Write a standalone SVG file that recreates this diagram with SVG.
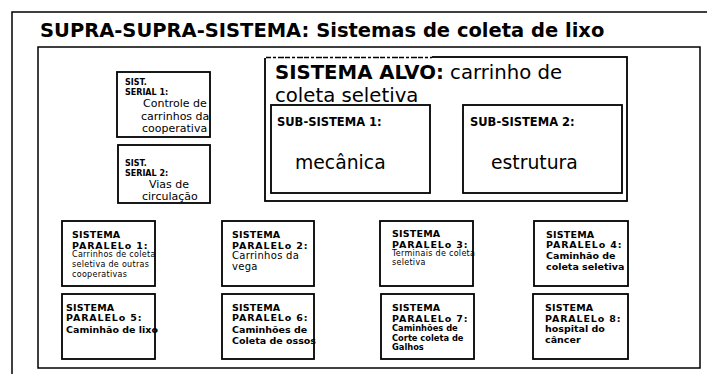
<svg xmlns="http://www.w3.org/2000/svg" width="707" height="374" viewBox="0 0 707 374">
<style>
.frame{fill:none;stroke:#000;stroke-width:1.5}
.box{fill:#fff;stroke:#000;stroke-width:1.8}
text{font-family:"DejaVu Sans","Verdana",sans-serif;fill:#000}
.b{font-weight:bold}
.t1{font-size:19.5px;font-weight:bold}
.alvo{font-size:19.7px}
.sub{font-size:11.5px;font-weight:bold}
.big{font-size:18.8px}
.ser{font-size:8px;font-weight:bold}
.serr{font-size:11px}
.ph{font-size:9.5px;font-weight:bold;letter-spacing:0.2px}
.pp{font-size:9.5px;font-weight:bold;letter-spacing:0.85px}
.sm{font-size:8px;letter-spacing:0.3px}
.md{font-size:10px;letter-spacing:0.3px}
.pb{font-size:9.5px;font-weight:bold}
.pb2{font-size:8.3px;font-weight:bold}
</style>
<rect width="707" height="374" fill="#fff"/>
<g id="supra-supra">
<rect class="frame" x="12" y="12" width="720" height="400"/>
<text class="t1" x="40" y="37">SUPRA-SUPRA-SISTEMA: Sistemas de coleta de lixo</text>
</g>
<g id="supra">
<rect class="frame" x="38" y="47" width="662" height="321"/>
</g>
<g id="alvo">
<rect class="box" x="265" y="57" width="362" height="144" stroke-width="1.5"/>
<line x1="264" y1="57" x2="432" y2="57" stroke="#fff" stroke-width="2.2"/>
<line x1="266" y1="57.5" x2="432" y2="57.5" stroke="#000" stroke-width="1.5" stroke-dasharray="5 2 3 2 6 1"/>
<text class="alvo" x="275" y="78.5"><tspan class="b">SISTEMA ALVO:</tspan> carrinho de</text>
<text class="alvo" x="275" y="101.5">coleta seletiva</text>
</g>
<g id="sub1">
<rect class="box" x="271" y="105" width="159" height="88"/>
<text class="sub" x="277" y="126">SUB-SISTEMA 1:</text>
<text class="big" x="295" y="169">mecânica</text>
</g>
<g id="sub2">
<rect class="box" x="463" y="105" width="159" height="88"/>
<text class="sub" x="470" y="126">SUB-SISTEMA 2:</text>
<text class="big" x="491" y="169">estrutura</text>
</g>
<g id="serial1">
<rect class="box" x="117" y="72" width="93" height="65"/>
<text class="ser" x="125" y="85">SIST.</text>
<text class="ser" x="125" y="95">SERIAL 1:</text>
<text class="serr" x="143" y="107">Controle de</text>
<text class="serr" x="141" y="119.5">carrinhos da</text>
<text class="serr" x="142" y="132">cooperativa</text>
</g>
<g id="serial2">
<rect class="box" x="118" y="145" width="92" height="58"/>
<text class="ser" x="125" y="166">SIST.</text>
<text class="ser" x="125" y="176">SERIAL 2:</text>
<text class="serr" x="149" y="187.5">Vias de</text>
<text class="serr" x="142" y="200">circulação</text>
</g>
<g id="paralelo1">
<rect class="box" x="62" y="221" width="93" height="65"/>
<text class="ph" x="72" y="237.5">SISTEMA</text>
<text class="pp" x="72" y="248.5">PARALELo 1:</text>
<text class="sm" x="72" y="256.5">Carrinhos de coleta</text>
<text class="sm" x="72" y="266.5">seletiva de outras</text>
<text class="sm" x="72" y="276.5">cooperativas</text>
</g>
<g id="paralelo2">
<rect class="box" x="222" y="221" width="92" height="65"/>
<text class="ph" x="232" y="237.5">SISTEMA</text>
<text class="pp" x="232" y="248.5">PARALELo 2:</text>
<text class="md" x="232" y="258.5">Carrinhos da</text>
<text class="md" x="232" y="269.5">vega</text>
</g>
<g id="paralelo3">
<rect class="box" x="380" y="221" width="93" height="65"/>
<text class="ph" x="392" y="236.5">SISTEMA</text>
<text class="pp" x="392" y="247.5">PARALELo 3:</text>
<text class="sm" x="392" y="256">Terminais de coleta</text>
<text class="sm" x="392" y="265">seletiva</text>
</g>
<g id="paralelo4">
<rect class="box" x="534" y="221" width="94" height="65"/>
<text class="ph" x="546" y="237.5">SISTEMA</text>
<text class="pp" x="546" y="247.5">PARALELo 4:</text>
<text class="pb" x="546" y="258.5">Caminhão de</text>
<text class="pb" x="546" y="269.5">coleta seletiva</text>
</g>
<g id="paralelo5">
<rect class="box" x="62" y="294" width="93" height="65"/>
<text class="ph" x="66" y="310.5">SISTEMA</text>
<text class="pp" x="66" y="320.5">PARALELo 5:</text>
<text class="pb" x="66" y="332.5">Caminhão de lixo</text>
</g>
<g id="paralelo6">
<rect class="box" x="222" y="294" width="92" height="65"/>
<text class="ph" x="232" y="310.5">SISTEMA</text>
<text class="pp" x="232" y="320.5">PARALELo 6:</text>
<text class="pb" x="232" y="332.5">Caminhões de</text>
<text class="pb" x="232" y="343.5">Coleta de ossos</text>
</g>
<g id="paralelo7">
<rect class="box" x="381" y="294" width="93" height="65"/>
<text class="ph" x="392" y="310.5">SISTEMA</text>
<text class="pp" x="392" y="321.5">PARALELo 7:</text>
<text class="pb2" x="392" y="331">Caminhões de</text>
<text class="pb2" x="392" y="341">Corte coleta de</text>
<text class="pb2" x="392" y="350">Galhos</text>
</g>
<g id="paralelo8">
<rect class="box" x="533" y="294" width="95" height="65"/>
<text class="ph" x="545" y="310.5">SISTEMA</text>
<text class="pp" x="545" y="321.5">PARALELo 8:</text>
<text class="pb" x="545" y="331.5">hospital do</text>
<text class="pb" x="545" y="343">câncer</text>
</g>
<g id="connectors"></g>
</svg>
